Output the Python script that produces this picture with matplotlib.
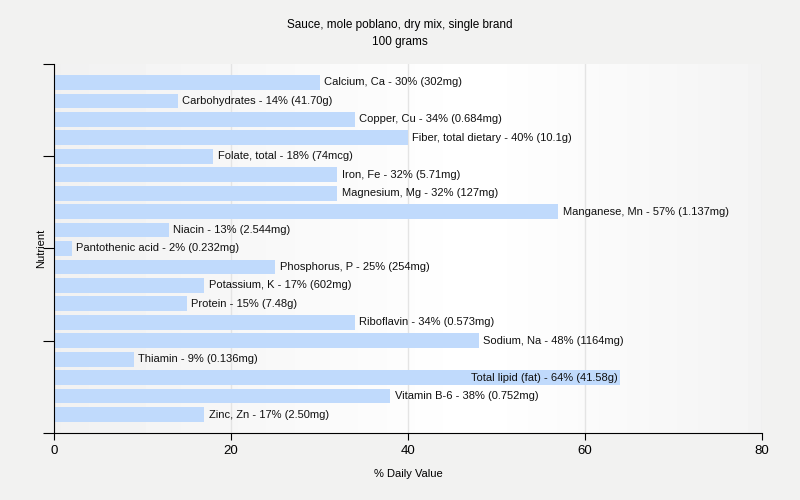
import numpy as np
import matplotlib.pyplot as plt

plt.rcParams['font.family'] = ['Liberation Sans', 'DejaVu Sans']

# Data
nutrients = ['Calcium, Ca', 'Carbohydrates', 'Copper, Cu', 'Fiber, total dietary', 'Folate, total',
             'Iron, Fe', 'Magnesium, Mg', 'Manganese, Mn', 'Niacin', 'Pantothenic acid',
             'Phosphorus, P', 'Potassium, K', 'Protein', 'Riboflavin', 'Sodium, Na',
             'Thiamin', 'Total lipid (fat)', 'Vitamin B-6', 'Zinc, Zn']
daily_value = [30, 14, 34, 40, 18, 32, 32, 57, 13, 2, 25, 17, 15, 34, 48, 9, 64, 38, 17]
amounts = ['302mg', '41.70g', '0.684mg', '10.1g', '74mcg', '5.71mg', '127mg', '1.137mg',
           '2.544mg', '0.232mg', '254mg', '602mg', '7.48g', '0.573mg', '1164mg', '0.136mg',
           '41.58g', '0.752mg', '2.50mg']

bg = '#f2f2f1'
fig = plt.figure(figsize=(8, 5), dpi=100, facecolor=bg)
ax = fig.add_axes([0.0675, 0.134, 0.885, 0.738])

# gradient plot background
grad = np.concatenate([np.linspace(0.945, 1.0, 60), np.linspace(1.0, 0.955, 40)])
ax.imshow(np.tile(grad, (2, 1)), cmap='gray', vmin=0, vmax=1, aspect='auto',
          extent=[0, 1, 0, 1], transform=ax.transAxes, zorder=0)

y = np.arange(len(nutrients))
ax.barh(y, daily_value, height=0.8, color='#c0dafc', zorder=2)

for i, (name, v, a) in enumerate(zip(nutrients, daily_value, amounts)):
    label = f'{name} - {v}% ({a})'
    if v > 60:
        ax.text(v - 0.3, i, label, va='center', ha='right', fontsize=8, color='#111111', zorder=3)
    else:
        ax.text(v + 0.5, i, label, va='center', ha='left', fontsize=8, color='#111111', zorder=3)

n = len(nutrients)
ax.set_xlim(0, 80)
ax.set_ylim(n, -1)
ax.set_xticks([0, 20, 40, 60, 80])
ax.tick_params(axis='x', labelsize=9.5, length=5, direction='out')
ax.set_yticks(np.linspace(n, -1, 5))
ax.set_yticklabels([])
ax.tick_params(axis='y', length=8, direction='out')
ax.grid(axis='x', color='#e4e4e4', linewidth=1, zorder=1)

for s in ['top', 'right']:
    ax.spines[s].set_visible(False)

ax.set_xlabel('% Daily Value', fontsize=8, labelpad=9)
ax.set_ylabel('Nutrient', fontsize=8, labelpad=-6)
fig.suptitle('Sauce, mole poblano, dry mix, single brand\n100 grams', fontsize=8.5,
             y=0.962, linespacing=1.6)

fig.savefig('out.png', dpi=100, facecolor=bg)
